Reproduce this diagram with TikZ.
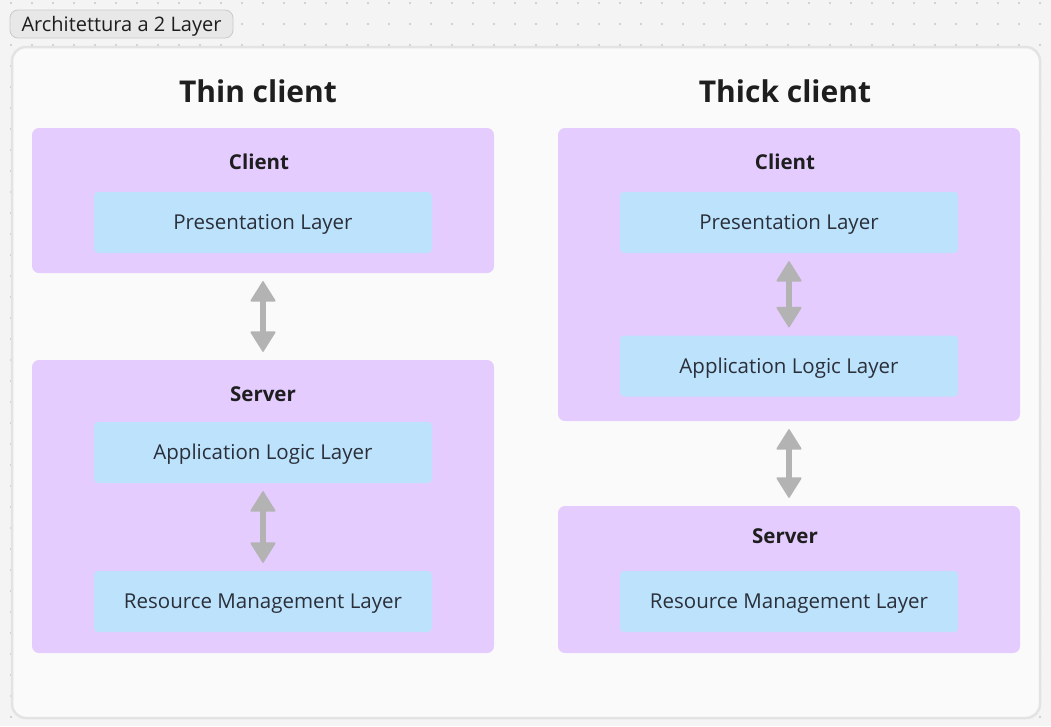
\documentclass[tikz,border=0pt]{standalone}
\usepackage{fontspec}
\setmainfont{Open Sans}
\usetikzlibrary{arrows.meta,positioning}

\definecolor{canvas}{HTML}{F4F4F4}
\definecolor{griddot}{HTML}{C8C8C8}
\definecolor{framefill}{HTML}{FAFAFA}
\definecolor{frameline}{HTML}{E3E3E3}
\definecolor{tagfill}{HTML}{E8E8E8}
\definecolor{tagline}{HTML}{CACACA}
\definecolor{tierfill}{HTML}{E4CCFF}
\definecolor{layerfill}{HTML}{BDE3FC}
\definecolor{arrowgray}{HTML}{B3B3B3}
\definecolor{inkdark}{HTML}{1E1E1E}
\definecolor{inklayer}{HTML}{2A2F3A}

\tikzset{
  tier/.style={rectangle, rounded corners=7pt, fill=tierfill, inner sep=0pt,
    minimum width=462pt},
  layer/.style={rectangle, rounded corners=4pt, fill=layerfill, inner sep=0pt,
    minimum width=338pt, minimum height=61pt, text=inklayer,
    text height=14.6pt, text depth=0pt, font=\fontsize{20.5}{24}\selectfont},
  tiername/.style={inner sep=0pt, text=inkdark, text height=14.6pt, text depth=0pt,
    font=\fontsize{20.5}{24}\selectfont\bfseries},
  heading/.style={inner sep=0pt, text=inkdark, text height=21.4pt, text depth=0pt,
    font=\fontsize{30}{35}\selectfont\bfseries},
  biarrow/.style={color=arrowgray, line width=6pt,
    {Triangle[width=26pt,length=21pt,line width=1.5pt,round]}-{Triangle[width=26pt,length=21pt,line width=1.5pt,round]},
    shorten <=8pt, shorten >=8pt}
}

\begin{document}
\begin{tikzpicture}[x=1pt,y=-1pt]
	\useasboundingbox (0,0) rectangle (1051,726);
	% canvas with dot grid
	\fill[canvas] (0,0) rectangle (1051,726);
	\foreach \i in {0,...,49}
		\foreach \j in {0,...,34}
			\fill[griddot] (11+21*\i,3+21*\j) circle (1.1pt);

	% tag and frame
	\node[rectangle, rounded corners=8pt, fill=tagfill, draw=tagline, line width=0.8pt,
		minimum width=223pt, minimum height=28pt, inner sep=0pt, text=inkdark,
		text height=14.3pt, text depth=0pt,
		font=\fontsize{20}{22}\selectfont] (tag) at (121.5,24) {Architettura a 2 Layer};
	\draw[frameline, fill=framefill, line width=2.5pt, rounded corners=14pt] (12,47) rectangle (1040,718);

	% thin client
	\node[heading]			(thinhead) 		at (258,92)		{Thin client};
	\node[tier, minimum height=145pt] 	(thinclient) 	at (263,200.5)	{};
	\node[tiername]			(thinclientlbl)	at (259,162)	{Client};
	\node[layer]			(thinpres)		at (263,222.5)	{Presentation Layer};
	\node[tier, minimum height=293pt]	(thinserver)	at (263,506.5)	{};
	\node[tiername]			(thinserverlbl)	at (263,394)	{Server};
	\node[layer]			(thinapp)		at (263,452.5)	{Application Logic Layer};
	\node[layer]			(thinres)		at (263,601.5)	{Resource Management Layer};

	% thick client
	\node[heading]			(thickhead)		at (785,92)		{Thick client};
	\node[tier, minimum height=293pt]	(thickclient)	at (789,274.5)	{};
	\node[tiername]			(thickclientlbl) at (785,162)	{Client};
	\node[layer]			(thickpres)		at (789,222.5)	{Presentation Layer};
	\node[layer]			(thickapp)		at (789,366)	{Application Logic Layer};
	\node[tier, minimum height=147pt]	(thickserver)	at (789,579.5)	{};
	\node[tiername]			(thickserverlbl) at (785,536)	{Server};
	\node[layer]			(thickres)		at (789,601.5)	{Resource Management Layer};

	\path[biarrow]
		(thinclient)	edge	(thinserver)
		(thinapp)		edge	(thinres)
		(thickpres)		edge	(thickapp)
		(thickclient)	edge	(thickserver)
		;
\end{tikzpicture}
\end{document}
